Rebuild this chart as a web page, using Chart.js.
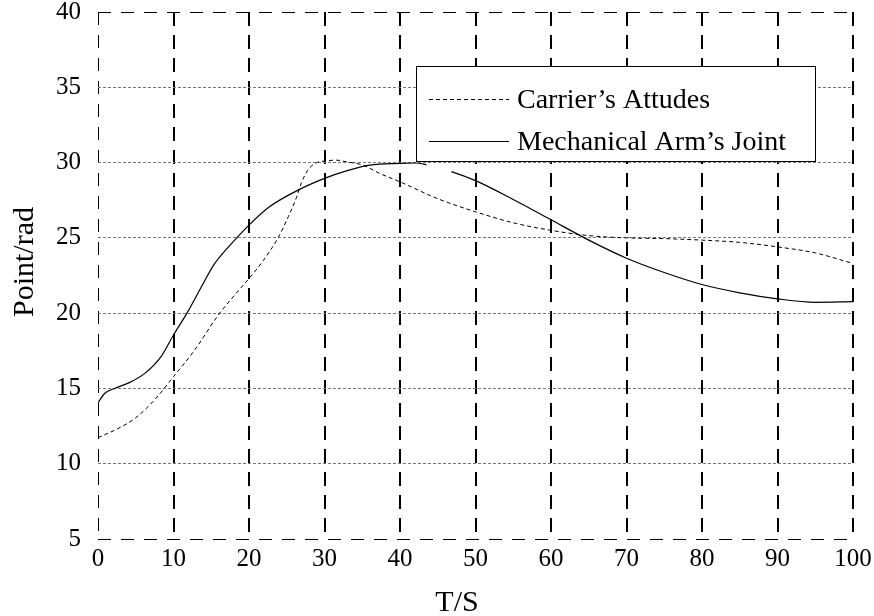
<!DOCTYPE html>
<html>
<head>
<meta charset="utf-8">
<script src="https://cdn.jsdelivr.net/npm/chart.js@4.4.1/dist/chart.umd.min.js"></script>
<style>
  html, body { margin: 0; padding: 0; background: #fff; }
</style>
</head>
<body>
<canvas id="chart" width="874" height="616"></canvas>
<script>
// values
const carrierX = [0, 2.5, 5, 7.5, 10, 12.8, 15.9, 18.1, 20, 21.9, 23.8, 25.2, 26.3, 26.9, 27.8, 28.9, 30, 31.6, 32.9, 35.1, 37.3, 40, 45, 50, 55, 60, 65, 70, 75, 80, 85, 90, 95, 100];
const carrierY = [11.73, 12.3, 13.05, 14.25, 15.78, 17.55, 19.85, 21.2, 22.3, 23.5, 24.96, 26.4, 27.7, 28.6, 29.5, 29.98, 30.1, 30.16, 30.05, 29.83, 29.28, 28.72, 27.6, 26.73, 26.0, 25.5, 25.15, 25.0, 24.95, 24.85, 24.7, 24.4, 24.0, 23.3];
const armX = [0, 0.9, 2.2, 4, 6.2, 8.4, 10, 11.9, 13.7, 15.4, 17.2, 18.5, 20, 22.7, 26.5, 30, 32.9, 36, 40, 42, 43.5, 46.8, 50, 55, 60, 65, 70, 75, 80, 85, 90, 95, 100];
const armY = [14.05, 14.68, 15.0, 15.35, 16.0, 17.15, 18.55, 20.1, 21.75, 23.25, 24.35, 25.07, 25.85, 27.06, 28.17, 28.95, 29.45, 29.83, 29.95, 29.97, 29.85, 29.4, 28.8, 27.55, 26.2, 24.85, 23.65, 22.7, 21.9, 21.35, 20.95, 20.72, 20.76];
// short stretch of the joint curve that is missing in the picture
const armGap = [43.5, 46.8];
const xTicks = [0, 10, 20, 30, 40, 50, 60, 70, 80, 90, 100];
const yTicks = [5, 10, 15, 20, 25, 30, 35, 40];
const seriesLabels = ["Carrier’s Attudes", "Mechanical Arm’s Joint"];
const xTitle = "T/S";
const yTitle = "Point/rad";

const serif = "'Liberation Serif', 'Times New Roman', serif";
Chart.defaults.font.family = serif;
Chart.defaults.color = "#000";

const toPoints = (xs, ys) => xs.map((x, i) => ({ x: x, y: ys[i] }));

// boxed legend + axis titles drawn on top
const extras = {
  id: "extras",
  afterDatasetsDraw(chart) {
    const ctx = chart.ctx;
    const box = { left: 416, top: 66, right: 815, bottom: 161 };
    ctx.save();
    ctx.fillStyle = "#fff";
    ctx.fillRect(box.left, box.top, box.right - box.left, box.bottom - box.top);
    ctx.strokeStyle = "#000";
    ctx.lineWidth = 1;
    ctx.strokeRect(box.left + 0.5, box.top + 0.5, box.right - box.left, box.bottom - box.top);

    const rows = [99.5, 141.5];
    chart.data.datasets.forEach((ds, i) => {
      ctx.beginPath();
      ctx.setLineDash(ds.borderDash || []);
      ctx.lineWidth = ds.borderWidth;
      ctx.moveTo(429, rows[i]);
      ctx.lineTo(509, rows[i]);
      ctx.stroke();
      ctx.setLineDash([]);
      ctx.fillStyle = "#000";
      ctx.font = "28px " + serif;
      ctx.textBaseline = "middle";
      ctx.textAlign = "left";
      ctx.fillText(ds.label, 517, rows[i] + 1);
    });

    ctx.font = "30px " + serif;
    ctx.textAlign = "center";
    ctx.textBaseline = "alphabetic";
    ctx.fillText(xTitle, 457, 611);
    ctx.translate(33, 262);
    ctx.rotate(-Math.PI / 2);
    ctx.fillText(yTitle, 0, 0);
    ctx.restore();
  }
};

new Chart(document.getElementById("chart"), {
  type: "line",
  data: {
    datasets: [
      {
        label: seriesLabels[0],
        data: toPoints(carrierX, carrierY),
        borderColor: "#000",
        borderWidth: 1,
        borderDash: [4, 3],
        pointRadius: 0,
        cubicInterpolationMode: "monotone",
        fill: false
      },
      {
        label: seriesLabels[1],
        data: toPoints(armX, armY),
        borderColor: "#000",
        borderWidth: 1.2,
        pointRadius: 0,
        cubicInterpolationMode: "monotone",
        fill: false,
        segment: {
          borderColor: (c) => (c.p0.parsed.x >= armGap[0] && c.p1.parsed.x <= armGap[1] ? "rgba(0,0,0,0)" : undefined)
        }
      }
    ]
  },
  options: {
    responsive: false,
    animation: false,
    devicePixelRatio: 1,
    layout: { padding: { top: 12, right: 21, left: 0, bottom: 0 } },
    plugins: {
      legend: { display: false },
      tooltip: { enabled: false }
    },
    scales: {
      x: {
        type: "linear",
        min: 0,
        max: 100,
        afterBuildTicks: (scale) => { scale.ticks = xTicks.map(v => ({ value: v })); },
        afterFit: (scale) => { scale.height = 77; scale.paddingLeft = 0; scale.paddingRight = 0; },
        ticks: { font: { size: 25 }, padding: 5, maxRotation: 0 },
        grid: {
          drawTicks: false,
          color: "#000",
          lineWidth: (c) => (c.index === 0 ? 1 : 2)
        },
        border: {
          display: false,
          dash: (c) => (c.index === 0 ? [13, 10] : [14, 9])
        }
      },
      y: {
        min: 5,
        max: 40,
        afterBuildTicks: (scale) => { scale.ticks = yTicks.map(v => ({ value: v })); },
        afterFit: (scale) => { scale.width = 98; scale.paddingTop = 0; scale.paddingBottom = 0; },
        ticks: { font: { size: 25 }, padding: 17 },
        grid: {
          drawTicks: false,
          color: (c) => (c.index === 0 || c.index === yTicks.length - 1 ? "#000" : "#777"),
          lineWidth: 1
        },
        border: {
          display: false,
          dash: (c) => (c.index === 0 || c.index === yTicks.length - 1 ? [13, 10] : [3, 2])
        }
      }
    }
  },
  plugins: [extras]
});
</script>
</body>
</html>
